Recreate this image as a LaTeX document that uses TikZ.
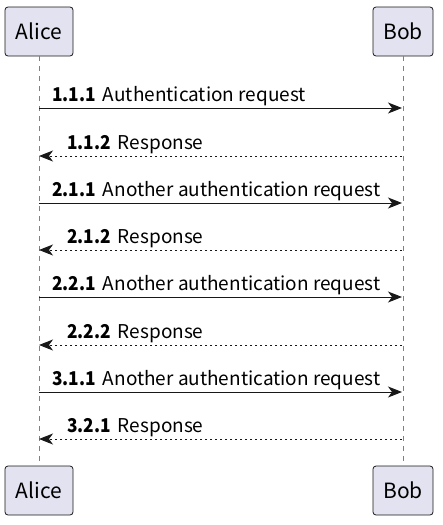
\documentclass[tikz,border=0pt]{standalone}
\usepackage{fontspec}
\usepackage{graphicx}
\setmainfont{Noto Sans CJK SC}
\usetikzlibrary{arrows.meta}
\definecolor{partfill}{HTML}{E2E2F0}
\definecolor{partline}{HTML}{181818}
\definecolor{lifeline}{HTML}{808080}
\newcommand{\seqno}[1]{\scalebox{0.91}[1]{\bfseries #1}\hspace{7pt}}
\begin{document}
\begin{tikzpicture}[x=1pt,y=-1pt,
  part/.style={draw=partline,fill=partfill,line width=0.8pt,rounded corners=3pt,font=\fontsize{21}{24}\selectfont,inner sep=0pt,minimum height=49pt},
  life/.style={draw=lifeline,line width=0.8pt,dash pattern=on 5pt off 5pt},
  msg/.style={draw=partline,line width=1pt,-{Stealth[length=14pt,width=11pt,inset=4pt]}},
  reply/.style={msg,dash pattern=on 2.5pt off 2.5pt},
  lbl/.style={anchor=base west,inner sep=0pt,font=\fontsize{19}{22}\selectfont}]
\useasboundingbox (0,0) rectangle (442,525);
\node[part,minimum width=68pt] (at) at (39,31.5) {Alice};
\node[part,minimum width=60pt] (bt) at (403,31.5) {Bob};
\node[part,minimum width=68pt] (ab) at (39,490.5) {Alice};
\node[part,minimum width=60pt] (bb) at (403,490.5) {Bob};
\draw[life] (at.south) -- (ab.north);
\draw[life] (bt.south) -- (bb.north);
% messages
\foreach \i/\y in {1/108,2/156,3/203,4/250,5/297,6/345,7/392,8/439}{
  \coordinate (a\i) at (39,\y);
  \coordinate (b\i) at (402,\y);
}
\draw[msg] (a1) -- (b1);
\draw[reply] (b2) -- (a2);
\draw[msg] (a3) -- (b3);
\draw[reply] (b4) -- (a4);
\draw[msg] (a5) -- (b5);
\draw[reply] (b6) -- (a6);
\draw[msg] (a7) -- (b7);
\draw[reply] (b8) -- (a8);
\node[lbl] (l1) at (52,101) {\seqno{1.1.1}Authentication request};
\node[lbl] (l2) at (67,149) {\seqno{1.1.2}Response};
\node[lbl] (l3) at (52,196) {\seqno{2.1.1}Another authentication request};
\node[lbl] (l4) at (67,243) {\seqno{2.1.2}Response};
\node[lbl] (l5) at (52,290) {\seqno{2.2.1}Another authentication request};
\node[lbl] (l6) at (67,338) {\seqno{2.2.2}Response};
\node[lbl] (l7) at (52,385) {\seqno{3.1.1}Another authentication request};
\node[lbl] (l8) at (67,432) {\seqno{3.2.1}Response};
\end{tikzpicture}
\end{document}
